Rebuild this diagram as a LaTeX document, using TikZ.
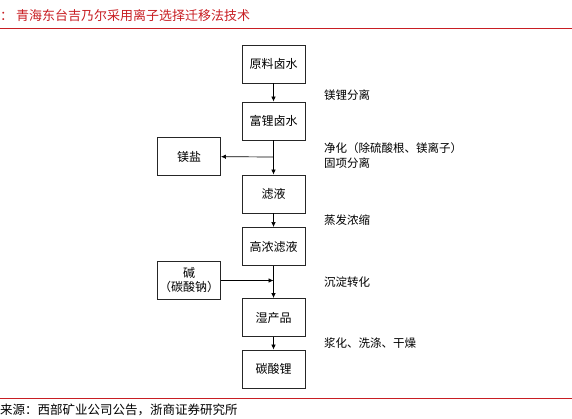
\documentclass[tikz,border=0pt]{standalone}
\usepackage{fontspec}
\setmainfont{Noto Sans CJK SC}
\usetikzlibrary{arrows.meta}
\definecolor{zsred}{RGB}{200,30,35}
\tikzset{
  procbox/.style={draw=black!85, line width=0.9pt, minimum width=63pt, minimum height=38pt, inner sep=1pt, font=\fontsize{12}{14}\selectfont},
  steplabel/.style={anchor=west, inner sep=0pt, font=\fontsize{11.5}{13}\selectfont},
  flow/.style={line width=0.7pt, -{Latex[length=5pt,width=4.5pt]}}
}
\begin{document}
\begin{tikzpicture}[x=1pt, y=-1pt]
   \useasboundingbox (0,0) rectangle (572,419);
   % title and rules
   \node[anchor=west, inner sep=0pt, text=zsred, font=\fontsize{13}{15}\selectfont] (title) at (0,16) {：\hspace{3pt}青海东台吉乃尔采用离子选择迁移法技术};
   \draw[zsred, line width=0.8pt] (0,28.5) -- (572,28.5);
   \draw[zsred, line width=0.8pt] (0,398) -- (572,398);
   \node[anchor=west, inner sep=0pt, font=\fontsize{12.5}{14}\selectfont] (source) at (0,410) {来源：西部矿业公司公告，浙商证券研究所};

   % main column
   \node[procbox] (raw) at (273.5,64) {原料卤水};
   \node[procbox] (rich) at (273.5,121) {富锂卤水};
   \node[procbox] (filt) at (273.5,194) {滤液};
   \node[procbox] (conc) at (273.5,246.5) {高浓滤液};
   \node[procbox] (wet) at (273.5,317.5) {湿产品};
   \node[procbox] (li) at (273.5,369) {碳酸锂};

   % side boxes
   \node[procbox] (mg) at (189,156.5) {镁盐};
   \node[procbox, align=center] (base) at (189,280.5) {碱\\（碳酸钠）};

   \coordinate (split) at (273.5,157);
   \coordinate (join) at (273.5,280.5);

   \draw[flow] (raw) -- (rich);
   \draw[flow] (rich) -- (filt);
   \draw[flow] (split) -- (mg);
   \draw[flow] (filt) -- (conc);
   \draw[flow] (conc) -- (wet);
   \draw[flow] (base) -- (join);
   \draw[flow] (wet) -- (li);

   % step labels
   \node[steplabel] (s1) at (324,95) {镁锂分离};
   \node[steplabel] (s2) at (324,148) {净化（除硫酸根、镁离子）};
   \node[steplabel] (s2b) at (324,163) {固项分离};
   \node[steplabel] (s3) at (324,220) {蒸发浓缩};
   \node[steplabel] (s4) at (324,282) {沉淀转化};
   \node[steplabel] (s5) at (324,343) {浆化、洗涤、干燥};
\end{tikzpicture}
\end{document}
